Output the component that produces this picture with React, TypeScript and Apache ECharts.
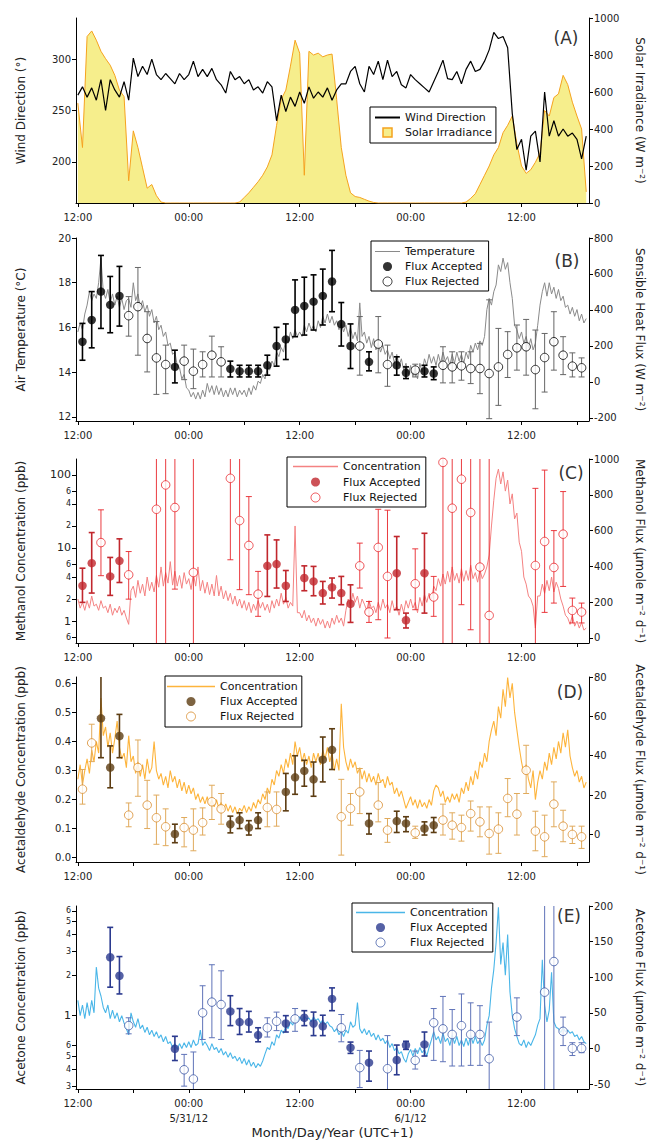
import React, { useEffect, useRef } from 'react';
import * as echarts from 'echarts';

// ---------------- data ----------------
// time in hours since 12:00 on 5/30/12 (UTC+1)
const A_STEP_H = 0.5; // panel A series: one value every 0.5 h
const CONC_STEP_H = 0.25; // panels B-E lines: one value every 0.25 h
const FLUX_START_H = 0.5;
const FLUX_STEP_H = 1;

const HOUR_TICKS = [0, 6, 12, 18, 24, 30, 36, 42, 48, 54];
const HOUR_LABELS = [0, 12, 24, 36, 48];
const DATE_LABELS: Record<number, string> = { 12: '5/31/12', 36: '6/1/12' };

const A_LEFT_TICKS = [200, 250, 300];
const A_RIGHT_TICKS = [0, 200, 400, 600, 800, 1000];
const B_LEFT_TICKS = [12, 14, 16, 18, 20];
const B_RIGHT_TICKS = [-200, 0, 200, 400, 600, 800];
const C_LEFT_TICKS = [0.6, 1, 2, 4, 6, 10, 20, 40, 60, 100];
const C_RIGHT_TICKS = [0, 200, 400, 600, 800, 1000];
const D_LEFT_TICKS = [0, 0.1, 0.2, 0.3, 0.4, 0.5, 0.6];
const D_RIGHT_TICKS = [0, 20, 40, 60, 80];
const E_LEFT_TICKS = [0.3, 0.4, 0.5, 0.6, 1, 2, 3, 4, 5, 6];
const E_RIGHT_TICKS = [-50, 0, 50, 100, 150, 200];

// (A) wind direction (deg) and solar irradiance (W m-2), every 0.5 h
const A_WIND = [
  265, 273, 263, 272, 260, 280, 250, 280, 270, 263,
  278, 260, 301, 283, 293, 285, 300, 285, 280, 286,
  281, 276, 286, 280, 285, 298, 283, 290, 283, 291,
  280, 275, 267, 288, 280, 283, 276, 280, 270, 273,
  267, 278, 273, 240, 265, 249, 263, 254, 268, 257,
  273, 262, 268, 263, 272, 260, 270, 276, 276, 288,
  293, 276, 268, 293, 285, 298, 280, 299, 283, 288,
  275, 272, 285, 280, 276, 272, 268, 278, 288, 299,
  281, 280, 288, 276, 290, 298, 288, 290, 298, 309,
  326, 320, 322, 311, 247, 212, 222, 192, 225, 230,
  200, 268, 225, 240, 225, 232, 225, 228, 222, 203,
  225,
];
const A_SOLAR = [
  540, 300, 900, 930, 880, 820, 780, 745, 690, 610,
  575, 120, 390, 300, 190, 80, 100, 40, 5, 0,
  0, 0, 0, 0, 0, 0, 0, 0, 0, 0,
  0, 0, 0, 0, 0, 5, 30, 55, 85, 115,
  150, 195, 260, 420, 560, 610, 740, 880, 810, 150,
  820, 800, 810, 790, 800, 805, 560, 300, 150, 55,
  35, 30, 20, 10, 3, 0, 0, 0, 0, 0,
  0, 0, 0, 0, 0, 0, 0, 0, 0, 0,
  0, 0, 0, 0, 5, 25, 50, 100, 150, 200,
  260, 300, 380, 420, 470, 320, 200, 160, 180, 220,
  270, 500, 470, 570, 590, 690, 640, 545, 470, 400,
  60,
];

// (B) air temperature (C), every 0.25 h (one row per hour)
const B_TEMP = [
  15.8, 16.2, 15.9, 16.6,
  17.0, 17.6, 17.2, 17.5,
  17.3, 18.0, 19.1, 17.6,
  17.3, 17.7, 17.1, 17.5,
  17.0, 17.4, 16.9, 17.3,
  16.8, 17.2, 17.3, 16.9,
  18.0, 17.2, 17.5, 16.9,
  17.2, 16.7, 17.0, 16.5,
  16.8, 16.2, 16.5, 15.9,
  16.1, 15.6, 15.8, 15.2,
  15.3, 14.8, 14.9, 14.3,
  14.2, 13.7, 13.9, 13.3,
  13.2, 12.9, 13.1, 12.8,
  13.1, 12.8, 13.2, 12.9,
  13.5, 13.1, 13.4, 13.0,
  13.4, 13.0, 13.3, 12.9,
  13.2, 12.9, 13.3, 13.0,
  13.3, 12.9, 13.2, 13.0,
  13.2, 12.9, 13.3, 13.0,
  13.4, 13.2, 13.6, 13.5,
  13.9, 13.7, 14.2, 14.1,
  14.5, 14.3, 14.9, 14.7,
  15.1, 14.9, 15.5, 15.3,
  15.8, 15.5, 15.9, 15.6,
  15.8, 15.6, 16.1, 15.8,
  16.2, 15.9, 16.1, 15.8,
  16.3, 16.0, 16.5, 16.2,
  16.6, 16.2, 16.5, 16.1,
  16.3, 15.9, 16.2, 15.8,
  16.1, 15.6, 16.0, 15.5,
  15.8, 15.4, 17.1, 15.6,
  15.8, 15.3, 15.6, 15.1,
  15.5, 15.0, 15.3, 14.9,
  15.2, 14.8, 15.0, 14.6,
  14.9, 14.4, 14.8, 14.3,
  14.6, 14.1, 14.4, 13.9,
  14.3, 13.8, 14.2, 13.7,
  14.4, 14.0, 14.6, 14.3,
  14.8, 14.4, 14.7, 14.3,
  14.8, 14.4, 14.9, 14.5,
  14.7, 14.3, 14.8, 14.4,
  14.9, 14.5, 14.8, 14.4,
  14.9, 14.6, 15.2, 14.9,
  15.3, 15.0, 15.4, 15.2,
  15.6, 16.8, 17.3, 17.0,
  17.6, 17.9, 18.8, 18.5,
  19.1, 18.6, 18.9, 18.0,
  17.3, 16.1, 15.9, 15.5,
  15.8, 15.3, 15.6, 15.1,
  15.5, 15.0, 15.3, 16.1,
  17.0, 17.6, 18.0, 17.4,
  18.0, 17.5, 17.8, 17.3,
  17.7, 17.2, 17.4, 16.9,
  17.0, 16.6, 16.9, 16.5,
  16.8, 16.3, 16.6, 16.2,
  16.4,
];
// (B) sensible heat flux (W m-2), hourly; 1 = accepted, 0 = rejected
const B_FLUX = [
  223, 344, 502, 428, 478, 368, 418, 241, 133, 96,
  83, 115, 59, 96, 148, 111, 72, 59, 59, 59,
  92, 199, 236, 400, 422, 446, 478, 558, 321, 199,
  199, 111, 210, 96, 92, 50, 65, 59, 46, 92,
  83, 89, 74, 74, 46, 83, 152, 189, 195, 68,
  135, 223, 148, 87, 78,
];
const B_LO = [
  120, 189, 297, 273, 310, 254, 148, 55, -70, -66,
  -6, 12, -38, 27, 27, 27, 27, 27, 27, 27,
  37, 87, 124, 251, 260, 288, 316, 390, 199, 74,
  37, 61, 50, -25, 37, 18, 27, 27, 12, -6,
  -6, 9, -10, -66, -205, -131, 24, 65, 37, -150,
  -57, 65, 40, 27, 27,
];
const B_HI = [
  325, 502, 703, 586, 642, 474, 636, 390, 335, 204,
  176, 204, 182, 167, 254, 195, 115, 92, 92, 92,
  148, 303, 322, 567, 582, 595, 627, 731, 441, 322,
  363, 167, 363, 204, 139, 83, 98, 92, 83, 195,
  167, 167, 167, 214, 456, 297, 279, 316, 347, 288,
  269, 390, 251, 161, 133,
];
const B_OK = [
  1, 1, 1, 1, 1, 0, 0, 0, 0, 0,
  1, 0, 0, 0, 0, 0, 1, 1, 1, 1,
  1, 1, 1, 1, 1, 1, 1, 1, 1, 1,
  0, 1, 0, 0, 1, 1, 0, 1, 1, 0,
  0, 0, 0, 0, 0, 0, 0, 0, 0, 0,
  0, 0, 0, 0, 0,
];

// (C) methanol concentration (ppb), every 0.25 h
const C_CONC = [
  2.0, 1.5, 1.8, 1.4,
  1.9, 1.5, 2.2, 1.6,
  1.7, 1.4, 1.9, 1.5,
  1.6, 1.3, 1.7, 1.2,
  1.5, 1.3, 1.6, 1.2,
  1.4, 1.1, 0.9, 2.6,
  3.0, 2.1, 3.6, 2.4,
  3.2, 2.2, 4.0, 2.6,
  3.4, 2.5, 4.2, 2.9,
  5.5, 3.0, 4.6, 3.3,
  6.5, 3.1, 4.8, 3.0,
  4.2, 2.8, 4.6, 3.2,
  3.8, 2.7, 4.4, 3.0,
  5.5, 2.6, 3.6, 2.4,
  3.4, 2.3, 3.2, 2.2,
  4.2, 2.2, 3.0, 2.0,
  2.6, 1.9, 2.4, 1.7,
  2.2, 1.6, 2.0, 1.5,
  1.9, 1.4, 1.8, 1.3,
  1.7, 1.4, 1.9, 1.5,
  1.8, 1.4, 1.7, 1.3,
  1.9, 1.5, 2.0, 1.6,
  2.4, 1.7, 2.1, 1.5,
  1.8, 1.6, 20, 1.3,
  1.3, 1.1, 1.4, 1.0,
  1.2, 0.95, 1.1, 0.85,
  1.1, 0.9, 1.05, 0.8,
  1.0, 0.8, 1.1, 0.9,
  1.2, 0.95, 1.1, 0.85,
  1.4, 2.0, 1.6, 2.4,
  1.8, 2.2, 1.5, 2.0,
  1.7, 1.4, 1.9, 1.5,
  1.6, 1.3, 1.8, 1.4,
  2.0, 1.5, 1.7, 1.3,
  1.9, 1.4, 1.6, 1.2,
  1.7, 1.3, 1.9, 1.5,
  2.0, 1.5, 1.8, 1.3,
  2.1, 1.6, 2.3, 1.8,
  2.4, 1.9, 3.0, 2.6,
  3.8, 3.0, 4.4, 3.2,
  4.8, 3.4, 5.5, 3.6,
  4.5, 3.3, 5.2, 3.5,
  4.9, 3.6, 5.8, 3.8,
  4.6, 3.4, 5.0, 3.8,
  4.4, 5.5, 8.0, 20,
  45, 90, 120, 75,
  110, 60, 85, 40,
  55, 25, 30, 12,
  9, 4.0, 3.2, 2.2,
  2.0, 1.6, 0.8, 2.2,
  2.2, 3.2, 2.4, 3.6,
  2.6, 4.0, 2.5, 3.4,
  2.8, 2.0, 1.6, 1.2,
  1.1, 0.9, 1.2, 0.85,
  1.0, 0.8, 0.95, 0.75,
  0.8,
];
// (C) methanol flux (umole m-2 d-1), hourly
const C_FLUX = [
  292, 418, 533, 344, 431, 353, null, null, 719, 855,
  729, null, 366, null, null, null, 892, 656, 517, 245,
  403, 413, 292, null, 335, 316, 251, 283, 251, 191,
  403, 145, 506, 344, 362, 99, 303, 362, 229, 981,
  725, 887, 701, 396, 126, null, null, null, null, 405,
  539, 394, 580, 154, 145,
];
const C_LO = [
  199, 251, 348, 238, 310, 217, null, null, -40, -40,
  273, null, -40, null, null, null, 437, 270, 242, 121,
  232, 279, 204, null, 264, 236, 190, 223, 186, 87,
  279, 87, 102, 0, 158, 56, 158, 139, 121, -40,
  -40, 186, 46, -40, -40, null, null, null, null, -40,
  143, 195, 288, 84, 84,
];
const C_HI = [
  390, 589, 716, 450, 554, 483, null, null, 1200, 1200,
  1200, null, 1200, null, null, null, 1200, 1200, 790, 372,
  576, 548, 377, null, 403, 400, 316, 335, 344, 297,
  530, 204, 719, 714, 567, 139, 498, 585, 344, 1200,
  1200, 1200, 1200, 1200, 1200, null, null, null, null, 836,
  938, 600, 818, 223, 195,
];
const C_OK = [
  1, 1, 0, 1, 1, 0, null, null, 0, 0,
  0, null, 0, null, null, null, 0, 0, 0, 0,
  1, 1, 1, null, 1, 1, 1, 1, 1, 1,
  0, 0, 0, 0, 1, 1, 0, 1, 0, 0,
  0, 0, 0, 0, 0, null, null, null, null, 0,
  0, 0, 0, 0, 0,
];

// (D) acetaldehyde concentration (ppb), every 0.25 h
const D_CONC = [
  0.27, 0.32, 0.25, 0.30,
  0.34, 0.29, 0.37, 0.33,
  0.40, 0.36, 0.55, 0.42,
  0.45, 0.38, 0.43, 0.36,
  0.41, 0.47, 0.38, 0.34,
  0.36, 0.31, 0.42, 0.33,
  0.35, 0.29, 0.33, 0.28,
  0.32, 0.27, 0.34, 0.29,
  0.31, 0.40, 0.30, 0.27,
  0.29, 0.25, 0.28, 0.24,
  0.30, 0.26, 0.28, 0.24,
  0.27, 0.23, 0.26, 0.22,
  0.25, 0.22, 0.24, 0.20,
  0.22, 0.19, 0.21, 0.185,
  0.21, 0.18, 0.20, 0.175,
  0.20, 0.17, 0.19, 0.165,
  0.185, 0.16, 0.18, 0.155,
  0.175, 0.15, 0.17, 0.16,
  0.18, 0.155, 0.175, 0.16,
  0.19, 0.17, 0.20, 0.185,
  0.22, 0.20, 0.24, 0.22,
  0.27, 0.25, 0.30, 0.28,
  0.32, 0.29, 0.34, 0.31,
  0.36, 0.32, 0.40, 0.35,
  0.38, 0.33, 0.36, 0.32,
  0.35, 0.31, 0.36, 0.33,
  0.36, 0.32, 0.37, 0.34,
  0.38, 0.33, 0.36, 0.30,
  0.34, 0.30, 0.53, 0.38,
  0.33, 0.30, 0.34, 0.31,
  0.33, 0.29, 0.31, 0.27,
  0.30, 0.26, 0.29, 0.26,
  0.28, 0.25, 0.29, 0.26,
  0.27, 0.24, 0.28, 0.25,
  0.26, 0.22, 0.24, 0.21,
  0.23, 0.20, 0.17, 0.19,
  0.21, 0.18, 0.20, 0.17,
  0.20, 0.175, 0.19, 0.17,
  0.20, 0.18, 0.23, 0.25,
  0.24, 0.21, 0.23, 0.19,
  0.21, 0.19, 0.22, 0.20,
  0.22, 0.19, 0.24, 0.22,
  0.26, 0.23, 0.28, 0.25,
  0.30, 0.27, 0.33, 0.31,
  0.36, 0.33, 0.40, 0.44,
  0.47, 0.42, 0.52, 0.48,
  0.58, 0.52, 0.62, 0.55,
  0.60, 0.50, 0.44, 0.38,
  0.33, 0.29, 0.32, 0.27,
  0.24, 0.30, 0.20, 0.26,
  0.30, 0.27, 0.33, 0.30,
  0.36, 0.32, 0.38, 0.34,
  0.40, 0.36, 0.43, 0.38,
  0.44, 0.35, 0.31, 0.28,
  0.30, 0.26, 0.28, 0.24,
  0.26,
];
const D_FLUX = [
  23, 46.5, 59, 34, 50, 9.8, 34, 14.9, 8.5, 3.9,
  0.2, 3.5, 2.2, 6, 16.6, 13, 5.2, 7.3, 3.5, 7.3,
  13.7, 12.7, 21.6, 29, 32.3, 28, 38, 43, 9, 13.2,
  21.6, 5.6, 14.9, 2.2, 6.8, 5.6, 0.8, 3, 4.7, 7.3,
  4.7, 3.5, 10.6, 6.4, 0.5, 2.7, 18.3, 10.3, 32.6, 1.7,
  -1.2, 15.4, 4.2, 0, -1.2,
];
const D_LO = [
  15.4, 37, 39, 23.7, 39, 3.9, 19.4, 3, -5, -5.7,
  -4.2, -6.3, -8.3, -0.3, 7.6, 5.2, 0.8, 3, -0.3, 3,
  3.9, 4.2, 12, 20.4, 24.5, 19.4, 26.7, 33, -10.5, 4.7,
  10.6, 0.2, 6.4, -4, 1, 1.4, -2, -0.3, 1, -0.3,
  -2.4, -3.4, 1.7, -1.2, -10, -9.6, 9, -0.3, 20.8, -8.3,
  -11.3, 3.9, -3.7, -4.6, -7.1,
];
const D_HI = [
  33, 56, 82, 45, 61, 16, 48, 27.5, 20, 13,
  5.2, 8.6, 13, 13.5, 25, 20.8, 9.3, 11, 7, 11,
  21.6, 21.6, 31, 40, 37.7, 36.8, 49.5, 53.7, 28, 20.8,
  33.5, 10.6, 26.4, 8.1, 11.8, 9, 4.2, 6.4, 8.6, 15.4,
  11, 9.8, 17, 14, 14, 11, 28.4, 20.8, 45.3, 11.8,
  9.8, 26.7, 12.3, 4.2, 4.2,
];
const D_OK = [
  0, 0, 1, 1, 1, 0, 0, 0, 0, 0,
  1, 0, 0, 0, 0, 0, 1, 1, 1, 1,
  0, 0, 1, 1, 1, 1, 1, 1, 0, 0,
  0, 1, 0, 0, 1, 1, 0, 1, 1, 0,
  0, 0, 0, 0, 0, 0, 0, 0, 0, 0,
  0, 0, 0, 0, 0,
];

// (E) acetone concentration (ppb), every 0.25 h
const E_CONC = [
  1.3, 1.0, 1.2, 0.95,
  1.25, 1.0, 1.3, 1.05,
  2.3, 1.6, 1.4, 1.15,
  1.05, 1.2, 0.95, 1.1,
  0.95, 1.05, 0.9, 1.0,
  0.88, 0.8, 0.72, 1.05,
  0.9, 0.82, 0.95, 0.8,
  0.85, 0.75, 0.82, 0.72,
  0.78, 0.7, 0.76, 0.68,
  0.72, 0.64, 0.7, 0.62,
  0.64, 0.58, 0.62, 0.56,
  0.62, 0.57, 0.63, 0.58,
  0.64, 0.58, 0.66, 0.6,
  0.62, 0.78, 0.6, 0.64,
  0.6, 0.55, 0.62, 0.56,
  0.58, 0.53, 0.57, 0.51,
  0.54, 0.49, 0.53, 0.48,
  0.5, 0.46, 0.49, 0.44,
  0.48, 0.43, 0.47, 0.42,
  0.45, 0.41, 0.44, 0.42,
  0.46, 0.52, 0.58, 0.56,
  0.64, 0.6, 0.72, 0.68,
  0.78, 0.74, 0.84, 0.8,
  0.9, 0.85, 0.95, 0.9,
  0.98, 0.92, 1.0, 0.94,
  0.96, 0.9, 0.98, 0.92,
  0.95, 0.88, 0.93, 0.86,
  0.9, 0.84, 0.82, 0.76,
  0.8, 0.72, 0.77, 0.7,
  0.78, 0.74, 0.9, 0.82,
  0.85, 1.25, 0.8, 0.74,
  0.8, 0.72, 0.78, 0.7,
  0.74, 0.66, 0.72, 0.65,
  0.68, 0.62, 0.66, 0.58,
  0.62, 0.55, 0.58, 0.52,
  0.54, 0.48, 0.45, 0.52,
  0.56, 0.5, 0.57, 0.52,
  0.58, 0.53, 0.56, 0.5,
  0.58, 0.66, 0.76, 0.66,
  0.7, 0.62, 0.74, 0.64,
  0.68, 0.6, 0.72, 0.62,
  0.7, 0.6, 0.66, 0.59,
  0.68, 0.6, 0.72, 0.62,
  0.7, 0.62, 0.66, 0.6,
  0.66, 0.85, 1.0, 1.6,
  2.2, 3.5, 6.4, 2.4,
  3.5, 2.0, 4.0, 1.5,
  1.0, 0.8, 0.7, 0.62,
  0.6, 0.66, 0.58, 0.64,
  0.6, 0.66, 0.72, 0.85,
  0.95, 2.6, 1.2, 0.9,
  1.1, 2.1, 0.9, 0.82,
  0.8, 0.75, 0.82, 0.76,
  0.78, 0.74, 0.76, 0.7,
  0.72, 0.66, 0.7, 0.64,
  0.62,
];
const E_FLUX = [
  null, null, null, 128, 102, 32, null, null, null, null,
  -0.5, -30, -43, 50, 65, 61.6, 52, 37, 37, 18.7,
  29, 38, 35, 41.5, 43, 35, 31, 69.5, 29, 1,
  -27, -20, null, -28.5, -16.3, 4.7, -16.8, 5.6, 36, 27.5,
  19.6, 32, 19.6, 19.6, -14.5, null, null, 44, null, null,
  79, 122, 24, 0, 0,
];
const E_LO = [
  null, null, null, 86, 76.5, 20.5, null, null, null, null,
  -17, -53, -70, 12.6, 15, 12.6, 32, 19.6, 23, 9.3,
  16, 25, 23, 24, 32, 18, 18, 53, 9.3, -7,
  -55, -46, null, -64, -37, -1.4, -29, -10.7, -16.8, -18.7,
  -24.7, -24.7, -23.8, -23.8, -67, null, null, 18, null, null,
  -67, -67, 4, -10, -6,
];
const E_HI = [
  null, null, null, 170, 129, 43, null, null, null, null,
  17, -8.4, -5, 88, 117.5, 109, 74, 56, 52, 29,
  43, 51, 46, 56, 53, 51, 46.6, 85, 47.6, 8.9,
  -2.8, -3.7, null, 18, 4.7, 10, -3.7, 23, 56, 73,
  54.6, 76.5, 64, 60, 37, null, null, 71, null, null,
  260, 260, 44, 8, 8,
];
const E_OK = [
  null, null, null, 1, 1, 0, null, null, null, null,
  1, 0, 0, 0, 0, 0, 1, 1, 1, 1,
  0, 0, 1, 0, 1, 1, 1, 1, 0, 1,
  0, 1, null, 0, 1, 1, 0, 1, 0, 0,
  0, 0, 0, 0, 0, null, null, 0, null, null,
  0, 0, 0, 0, 0,
];

// ---------------- helpers ----------------
const FONT = 'DejaVu Sans';

const lineData = (vals: number[], step: number) => vals.map((v, i) => [i * step, v]);

const fluxPts = (vals: (number | null)[], ok: (number | null)[], want: number) =>
  vals
    .map((v, i) => (v != null && ok[i] === want ? [FLUX_START_H + i * FLUX_STEP_H, v] : null))
    .filter((p) => p != null);

const errPts = (
  vals: (number | null)[],
  lo: (number | null)[],
  hi: (number | null)[],
  ok: (number | null)[],
  want: number
) =>
  vals
    .map((v, i) => (v != null && ok[i] === want ? [FLUX_START_H + i * FLUX_STEP_H, lo[i], hi[i]] : null))
    .filter((p) => p != null);

const errSeries = (xi: number, yi: number, data: any[], color: string, width: number) => ({
  type: 'custom',
  xAxisIndex: xi,
  yAxisIndex: yi,
  data,
  clip: true,
  silent: true,
  z: 3,
  encode: { x: 0, y: [1, 2] },
  renderItem: (params: any, api: any) => {
    const x = api.value(0);
    const a = api.coord([x, api.value(2)]);
    const b = api.coord([x, api.value(1)]);
    const cap = 3;
    const st = { stroke: color, lineWidth: width };
    return {
      type: 'group',
      children: [
        { type: 'line', shape: { x1: a[0], y1: a[1], x2: b[0], y2: b[1] }, style: st },
        { type: 'line', shape: { x1: a[0] - cap, y1: a[1], x2: a[0] + cap, y2: a[1] }, style: st },
        { type: 'line', shape: { x1: b[0] - cap, y1: b[1], x2: b[0] + cap, y2: b[1] }, style: st },
      ],
    };
  },
});

const logFmt = (v: number) => {
  const e = Math.floor(Math.log10(v) + 1e-9);
  const m = Math.round(v / Math.pow(10, e));
  return m === 1 ? `{big|${+v.toPrecision(3)}}` : `{small|${m}}`;
};

function buildOption() {
  const panels = [
    { top: 18, height: 185 },
    { top: 238, height: 183 },
    { top: 459, height: 184 },
    { top: 677, height: 185 },
    { top: 906, height: 183 },
  ];
  const grid = panels.map((p) => ({
    left: 76,
    right: 65,
    top: p.top,
    height: p.height,
    containLabel: false,
    outerBoundsMode: 'none',
  }));

  const xAxis = panels.map((p, i) => ({
    type: 'value',
    gridIndex: i,
    min: -0.2,
    max: 55.3,
    axisLine: { show: true, onZero: false, lineStyle: { color: '#000', width: 1 } },
    axisTick: { show: true, customValues: HOUR_TICKS, length: 4, lineStyle: { color: '#000' } },
    axisLabel: {
      show: true,
      customValues: HOUR_LABELS,
      fontSize: 10,
      fontFamily: FONT,
      color: '#222',
      margin: 7,
      lineHeight: 15,
      formatter: (v: number) => {
        const t = v % 24 === 0 ? '12:00' : '00:00';
        return i === 4 && DATE_LABELS[v] ? t + '\n' + DATE_LABELS[v] : t;
      },
    },
    splitLine: { show: false },
    nameMoveOverlap: false,
    ...(i === 4
      ? {
          name: 'Month/Day/Year (UTC+1)',
          nameLocation: 'middle',
          nameGap: 37,
          nameTextStyle: { fontSize: 13, fontFamily: FONT, color: '#222' },
        }
      : {}),
  }));

  const yDefs: any[] = [
    { g: 0, pos: 'left', min: 160, max: 340, ticks: A_LEFT_TICKS, name: 'Wind Direction (°)' },
    { g: 0, pos: 'right', min: 0, max: 1000, ticks: A_RIGHT_TICKS, name: 'Solar Irradiance (W m⁻²)' },
    { g: 1, pos: 'left', min: 11.82, max: 20, ticks: B_LEFT_TICKS, name: 'Air Temperature (°C)' },
    { g: 1, pos: 'right', min: -218, max: 800, ticks: B_RIGHT_TICKS, name: 'Sensible Heat Flux (W m⁻²)' },
    { g: 2, pos: 'left', log: true, min: 0.5, max: 165, ticks: C_LEFT_TICKS, name: 'Methanol Concentration (ppb)' },
    { g: 2, pos: 'right', min: -28, max: 1000, ticks: C_RIGHT_TICKS, name: 'Methanol Flux (µmole m⁻² d⁻¹)' },
    { g: 3, pos: 'left', min: -0.015, max: 0.622, ticks: D_LEFT_TICKS, dec: 1, name: 'Acetaldehyde Concentration (ppb)' },
    { g: 3, pos: 'right', min: -14, max: 80, ticks: D_RIGHT_TICKS, name: 'Acetaldehyde Flux (µmole m⁻² d⁻¹)' },
    { g: 4, pos: 'left', log: true, min: 0.285, max: 6.53, ticks: E_LEFT_TICKS, name: 'Acetone Concentration (ppb)' },
    { g: 4, pos: 'right', min: -57, max: 200, ticks: E_RIGHT_TICKS, name: 'Acetone Flux (µmole m⁻² d⁻¹)' },
  ];

  const yAxis = yDefs.map((d) => ({
    type: d.log ? 'log' : 'value',
    ...(d.log ? { logBase: 10 } : {}),
    gridIndex: d.g,
    position: d.pos,
    min: d.min,
    max: d.max,
    axisLine: { show: true, onZero: false, lineStyle: { color: '#000', width: 1 } },
    axisTick: { show: true, customValues: d.ticks, length: 4, lineStyle: { color: '#000' } },
    axisLabel: {
      show: true,
      customValues: d.ticks,
      fontSize: 10,
      fontFamily: FONT,
      color: '#222',
      margin: 5,
      formatter: d.log ? logFmt : (v: number) => (d.dec ? v.toFixed(d.dec) : String(v)),
      rich: {
        big: { fontSize: 11, fontFamily: FONT, color: '#222' },
        small: { fontSize: 8, fontFamily: FONT, color: '#222' },
      },
    },
    splitLine: { show: false },
    name: d.name,
    nameLocation: 'middle',
    nameRotate: d.pos === 'left' ? 90 : -90,
    nameGap: d.pos === 'left' ? 49 : 45,
    nameMoveOverlap: false,
    nameTextStyle: { fontSize: 12, fontFamily: FONT, color: '#222' },
  }));

  const scatterFilled = (name: string, xi: number, yi: number, data: any[], color: string) => ({
    name,
    type: 'scatter',
    xAxisIndex: xi,
    yAxisIndex: yi,
    data,
    symbol: 'circle',
    symbolSize: 8.5,
    itemStyle: { color, borderWidth: 0 },
    emphasis: { disabled: true },
    z: 4,
  });
  const scatterOpen = (name: string, xi: number, yi: number, data: any[], color: string) => ({
    name,
    type: 'scatter',
    xAxisIndex: xi,
    yAxisIndex: yi,
    data,
    symbol: 'circle',
    symbolSize: 8.5,
    itemStyle: { color: '#fff', borderColor: color, borderWidth: 1 },
    emphasis: { disabled: true },
    z: 4,
  });
  const seriesLine = (name: string, xi: number, yi: number, vals: number[], step: number, color: string, width: number, z = 2) => ({
    name,
    type: 'line',
    xAxisIndex: xi,
    yAxisIndex: yi,
    data: lineData(vals, step),
    symbol: 'none',
    lineStyle: { color, width },
    itemStyle: { color },
    emphasis: { disabled: true },
    z,
  });

  const COL = {
    solarLine: '#F5A21E',
    solarFill: '#F6EE8C',
    temp: '#8a8a8a',
    bRejBar: '#666',
    cLine: '#F48282',
    cAcc: '#C1272D',
    cRej: '#E8262B',
    dLine: '#FDB43C',
    dAcc: '#5C3C12',
    dRej: '#D88B2A',
    dRejBar: '#E0AA5C',
    eLine: '#4AB6E8',
    eAcc: '#2B3A8F',
    eRej: '#3A55A4',
    eRejBar: '#5F73B8',
  };

  const series: any[] = [
    // A
    {
      ...seriesLine('A|Solar Irradiance', 0, 1, A_SOLAR, A_STEP_H, COL.solarLine, 1, 1),
      areaStyle: { color: COL.solarFill, opacity: 1 },
    },
    seriesLine('A|Wind Direction', 0, 0, A_WIND, A_STEP_H, '#000', 1.2, 3),
    // B
    seriesLine('B|Temperature', 1, 2, B_TEMP, CONC_STEP_H, COL.temp, 1),
    errSeries(1, 3, errPts(B_FLUX, B_LO, B_HI, B_OK, 0), COL.bRejBar, 1),
    errSeries(1, 3, errPts(B_FLUX, B_LO, B_HI, B_OK, 1), '#000', 1.6),
    scatterFilled('B|Flux Accepted', 1, 3, fluxPts(B_FLUX, B_OK, 1), '#000'),
    scatterOpen('B|Flux Rejected', 1, 3, fluxPts(B_FLUX, B_OK, 0), '#000'),
    // C
    seriesLine('C|Concentration', 2, 4, C_CONC, CONC_STEP_H, COL.cLine, 1),
    errSeries(2, 5, errPts(C_FLUX, C_LO, C_HI, C_OK, 0), COL.cRej, 0.9),
    errSeries(2, 5, errPts(C_FLUX, C_LO, C_HI, C_OK, 1), COL.cAcc, 1.6),
    scatterFilled('C|Flux Accepted', 2, 5, fluxPts(C_FLUX, C_OK, 1), COL.cAcc),
    scatterOpen('C|Flux Rejected', 2, 5, fluxPts(C_FLUX, C_OK, 0), COL.cRej),
    // D
    seriesLine('D|Concentration', 3, 6, D_CONC, CONC_STEP_H, COL.dLine, 1.1),
    errSeries(3, 7, errPts(D_FLUX, D_LO, D_HI, D_OK, 0), COL.dRejBar, 1),
    errSeries(3, 7, errPts(D_FLUX, D_LO, D_HI, D_OK, 1), COL.dAcc, 1.6),
    scatterFilled('D|Flux Accepted', 3, 7, fluxPts(D_FLUX, D_OK, 1), COL.dAcc),
    scatterOpen('D|Flux Rejected', 3, 7, fluxPts(D_FLUX, D_OK, 0), COL.dRej),
    // E
    seriesLine('E|Concentration', 4, 8, E_CONC, CONC_STEP_H, COL.eLine, 1.1),
    errSeries(4, 9, errPts(E_FLUX, E_LO, E_HI, E_OK, 0), COL.eRejBar, 1),
    errSeries(4, 9, errPts(E_FLUX, E_LO, E_HI, E_OK, 1), COL.eAcc, 1.6),
    scatterFilled('E|Flux Accepted', 4, 9, fluxPts(E_FLUX, E_OK, 1), COL.eAcc),
    scatterOpen('E|Flux Rejected', 4, 9, fluxPts(E_FLUX, E_OK, 0), COL.eRej),
  ];

  const legendBase = (left: number, top: number, itemWidth: number, padding: number[], itemGap: number, data: any[]) => ({
    show: true,
    orient: 'vertical',
    left,
    top,
    itemWidth,
    itemHeight: 9,
    itemGap,
    padding,
    borderColor: '#000',
    borderWidth: 1,
    borderRadius: 0,
    backgroundColor: '#fff',
    selectedMode: false,
    align: 'left',
    symbolKeepAspect: true,
    formatter: (n: string) => n.split('|')[1],
    textStyle: { fontSize: 11, fontFamily: FONT, color: '#111' },
    data,
  });
  const lineItem = (name: string, color: string, w: number, h: number) => ({
    name,
    icon: `path://M0 0H${w}V${h}H0Z`,
    itemStyle: { color, borderWidth: 0 },
  });
  const accItem = (name: string, color: string) => ({ name, icon: 'circle', itemStyle: { color, borderWidth: 0 } });
  const rejItem = (name: string, color: string) => ({
    name,
    icon: 'circle',
    itemStyle: { color: '#fff', borderColor: color, borderWidth: 1 },
  });

  const legend = [
    legendBase(370, 107, 25, [5, 4, 5, 5], 4, [
      lineItem('A|Wind Direction', '#000', 25, 2),
      {
        name: 'A|Solar Irradiance',
        icon: 'path://M0 0H10V10H0Z',
        itemStyle: { color: COL.solarFill, borderColor: COL.solarLine, borderWidth: 1.5 },
      },
    ]),
    legendBase(371, 241, 25, [5, 6, 4, 4], 4, [
      lineItem('B|Temperature', COL.temp, 25, 1),
      accItem('B|Flux Accepted', '#000'),
      rejItem('B|Flux Rejected', '#000'),
    ]),
    legendBase(287, 457, 45, [4, 5, 4, 6], 4.5, [
      lineItem('C|Concentration', COL.cLine, 45, 1.3),
      accItem('C|Flux Accepted', COL.cAcc),
      rejItem('C|Flux Rejected', COL.cRej),
    ]),
    legendBase(165, 676, 48, [5, 4, 5, 2], 4, [
      lineItem('D|Concentration', COL.dLine, 48, 1.3),
      accItem('D|Flux Accepted', COL.dAcc),
      rejItem('D|Flux Rejected', COL.dRej),
    ]),
    legendBase(352, 903, 49, [4, 5, 4, 4], 4, [
      lineItem('E|Concentration', COL.eLine, 49, 1.3),
      accItem('E|Flux Accepted', COL.eAcc),
      rejItem('E|Flux Rejected', COL.eRej),
    ]),
  ];

  const tags = [
    { t: '(A)', x: 566, y: 38 },
    { t: '(B)', x: 567, y: 261 },
    { t: '(C)', x: 571, y: 473 },
    { t: '(D)', x: 570, y: 692 },
    { t: '(E)', x: 569, y: 916 },
  ];
  const graphic = tags.map((g) => ({
    type: 'text',
    x: g.x,
    y: g.y,
    silent: true,
    z: 100,
    style: {
      text: g.t,
      fill: '#333',
      font: `17px "${FONT}"`,
      align: 'center',
      verticalAlign: 'middle',
    },
  }));

  return {
    animation: false,
    backgroundColor: '#fff',
    textStyle: { fontFamily: FONT },
    grid,
    xAxis,
    yAxis,
    legend,
    series,
    graphic,
  };
}

export default function App() {
  const ref = useRef<HTMLDivElement>(null);
  useEffect(() => {
    if (!ref.current) return;
    const chart = echarts.init(ref.current, null, { renderer: 'svg' });
    chart.setOption(buildOption() as any);
    return () => chart.dispose();
  }, []);
  return (
    <div
      ref={ref}
      style={{ position: 'absolute', left: 0, top: 0, width: 654, height: 1140, background: '#fff' }}
    />
  );
}
